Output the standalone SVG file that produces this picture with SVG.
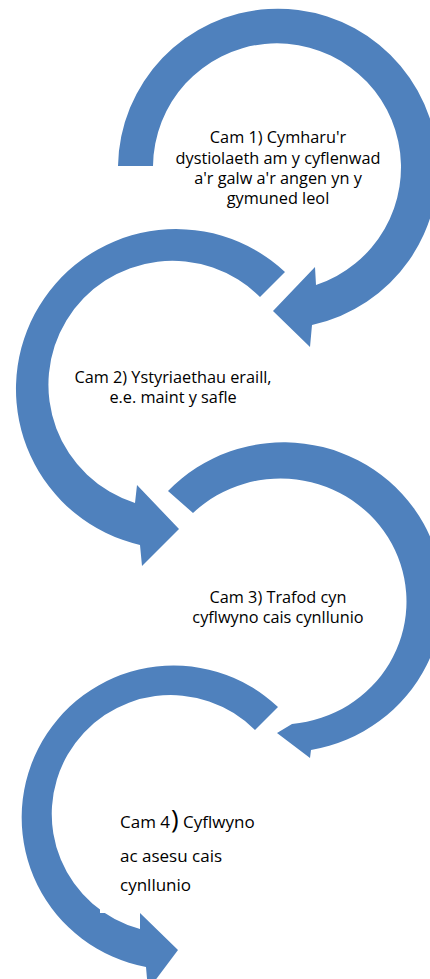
<svg xmlns="http://www.w3.org/2000/svg" width="430" height="979" viewBox="0 0 430 979">
<style>
.arrow{fill:#4F81BD;stroke:none}
.t{font-family:"Open Sans","Liberation Sans",sans-serif;font-size:16.3px;fill:#000;text-anchor:middle}
.t4{font-family:"Open Sans","Liberation Sans",sans-serif;font-size:17px;fill:#000}
</style>
<rect width="430" height="979" fill="#fff"/>
<g id="connectors">
<path class="arrow" d="M118,166 A160,160 0 1 1 312,325 L310,347 L273,311 L315,267 L316,285 A124,124 0 1 0 153,166 Z"/>
<path class="arrow" d="M285,272 A160,160 0 1 0 140,545 L142,566 L179,529 L137,485 L135,503 A124,124 0 1 1 260,297 Z"/>
<path class="arrow" d="M168,491 A159,155 0 1 1 311,750 L310,758 L277,733 L292,724 A126,123 0 1 0 193,513 Z"/>
<path class="arrow" d="M278,707 A152,152 0 1 0 146,967 L148,990 L178,950 L140,913 L140,929 A119,119 0 1 1 255,730 Z"/>
</g>
<g id="step1">
<text class="t" x="278" y="143">Cam 1) Cymharu'r</text>
<text class="t" x="278" y="164">dystiolaeth am y cyflenwad</text>
<text class="t" x="278" y="184">a'r galw a'r angen yn y</text>
<text class="t" x="278" y="204">gymuned leol</text>
</g>
<g id="step2">
<text class="t" x="173" y="383">Cam 2) Ystyriaethau eraill,</text>
<text class="t" x="173" y="403">e.e. maint y safle</text>
</g>
<g id="step3">
<text class="t" x="278" y="603">Cam 3) Trafod cyn</text>
<text class="t" x="278" y="623">cyflwyno cais cynllunio</text>
</g>
<g id="step4">
<rect x="100" y="790" width="160" height="123" fill="#fff"/>
<text class="t4" x="120" y="828">Cam 4<tspan dx="1" font-size="26px">)</tspan><tspan> Cyflwyno</tspan></text>
<text class="t4" x="120" y="862">ac asesu cais</text>
<text class="t4" x="120" y="891">cynllunio</text>
</g>
</svg>
